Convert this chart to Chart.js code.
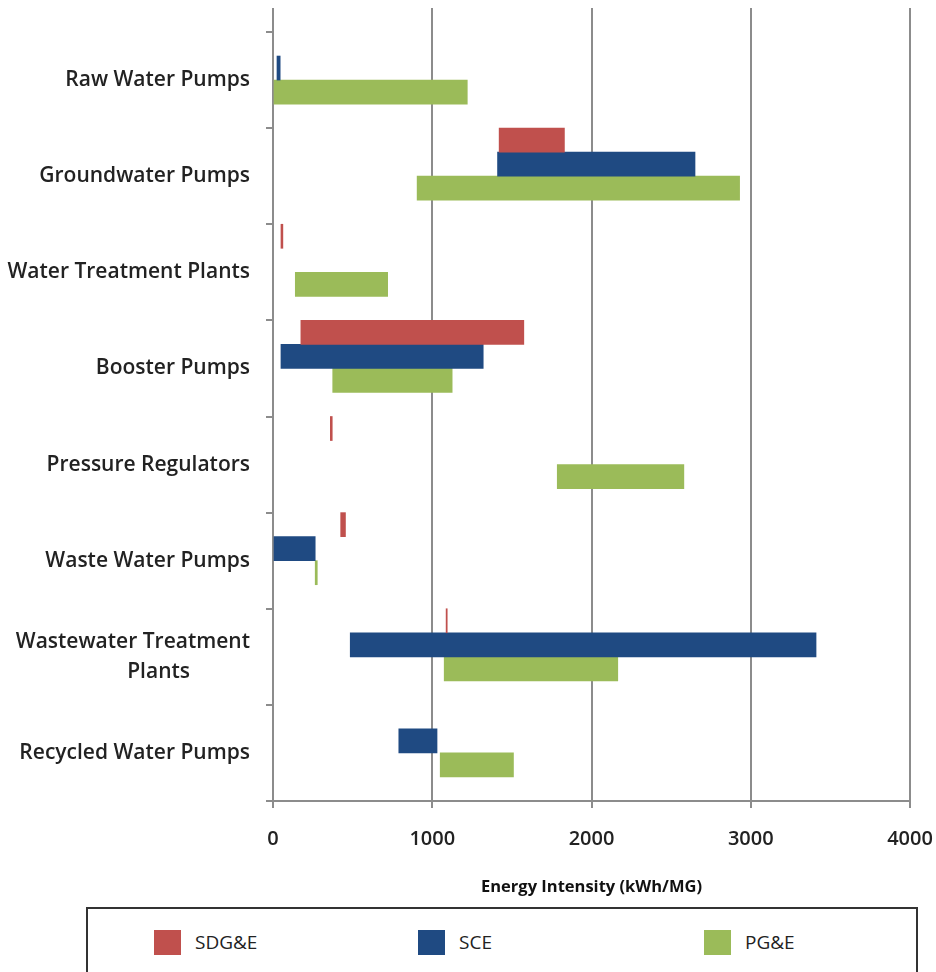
<!DOCTYPE html>
<html lang="en">
<head>
    <meta charset="UTF-8">
    <title>Energy Intensity by Facility Type</title>
    <style>
        body { margin: 0; padding: 0; background: #fff; font-family: 'Open Sans', sans-serif; }
        #wrap { width: 936px; height: 904px; position: relative; }
        #legend { position: absolute; left: 86px; top: 907px; width: 832px; height: 70px; border: 2px solid #333; box-sizing: border-box; }
        .item { position: absolute; top: 20px; display: flex; align-items: center; font-size: 19px; color: #222; }
        .box { width: 27px; height: 25px; margin-right: 14px; }
    </style>
</head>
<body>
    <div id="wrap"><canvas id="chart"></canvas></div>
    <div id="legend"></div>
    <script src="https://cdn.jsdelivr.net/npm/chart.js"></script>
    <script>
    // categorias (eixo y)
    const categories = [
        'Raw Water Pumps',
        'Groundwater Pumps',
        'Water Treatment Plants',
        'Booster Pumps',
        'Pressure Regulators',
        'Waste Water Pumps',
        ['Wastewater Treatment', 'Plants' + ' '.repeat(11)],
        'Recycled Water Pumps'
    ];
    // faixas [min, max] em kWh/MG
    const sdge = [null, [1420, 1830], [50, 62], [175, 1575], [360, 372], [425, 455], [1087, 1094], null];
    const sce  = [[25, 45], [1410, 2650], null, [50, 1320], null, [0, 265], [485, 3410], [790, 1030]];
    const pge  = [[0, 1220], [905, 2930], [140, 720], [375, 1125], [1785, 2580], [265, 278], [1075, 2165], [1050, 1510]];
    const xTicks = [0, 1000, 2000, 3000, 4000];

    const gridColor = '#8c8c8c';

    // prolonga as linhas verticais acima da area do grafico
    const topLines = {
        id: 'topLines',
        afterDraw(chart) {
            const ctx = chart.ctx, x = chart.scales.x, top = chart.chartArea.top;
            ctx.save();
            ctx.strokeStyle = gridColor;
            ctx.lineWidth = 2;
            xTicks.forEach(v => {
                const px = Math.round(x.getPixelForValue(v));
                ctx.beginPath();
                ctx.moveTo(px, 8);
                ctx.lineTo(px, top + 1);
                ctx.stroke();
            });
            ctx.restore();
        }
    };

    const canvas = document.getElementById('chart');
    canvas.width = 936; canvas.height = 904;

    const chart = new Chart(canvas, {
        type: 'bar',
        data: {
            labels: categories,
            datasets: [
                { label: 'SDG&E', data: sdge, backgroundColor: '#C0504D' },
                { label: 'SCE', data: sce, backgroundColor: '#1F4A82' },
                { label: 'PG&E', data: pge, backgroundColor: '#9BBB59' },
                { label: '', data: [], backgroundColor: 'rgba(0,0,0,0)' }
            ]
        },
        options: {
            indexAxis: 'y',
            responsive: false,
            animation: false,
            categoryPercentage: 1,
            barPercentage: 1,
            layout: { padding: { top: 32, right: 26, left: 0, bottom: 0 } },
            plugins: { legend: { display: false }, tooltip: { enabled: false } },
            scales: {
                x: {
                    min: 0, max: 4000,
                    afterBuildTicks: s => { s.ticks = xTicks.map(v => ({ value: v })); },
                    afterFit: s => { s.height = 103; },
                    grid: { color: gridColor, lineWidth: 2, tickLength: 7, tickColor: gridColor },
                    border: { color: gridColor, width: 2 },
                    ticks: {
                        color: '#222', padding: 0, font: { family: 'Open Sans', size: 20, weight: '600', lineHeight: '62px' },
                        callback: v => String(v)
                    },
                    title: {
                        display: true, text: 'Energy Intensity (kWh/MG)', color: '#111',
                        font: { family: 'Open Sans', size: 16.5, weight: 'bold' }, padding: { top: 0, bottom: 7 }
                    }
                },
                y: {
                    afterFit: s => { s.width = 273; },
                    grid: { display: true, drawOnChartArea: false, offset: true, tickLength: 7, color: gridColor, lineWidth: 2 },
                    border: { color: gridColor, width: 2 },
                    ticks: { color: '#222', padding: 16, font: { family: 'Open Sans', size: 21, weight: '600', lineHeight: 1.45 } }
                }
            }
        },
        plugins: [topLines]
    });

    // legenda em HTML, montada dos datasets
    const legend = document.getElementById('legend');
    const lefts = [66, 330, 616];
    chart.data.datasets.slice(0, 3).forEach((d, i) => {
        legend.innerHTML += `<div class="item" style="left:${lefts[i]}px"><span class="box" style="background:${d.backgroundColor}"></span>${d.label}</div>`;
    });
    </script>
</body>
</html>
